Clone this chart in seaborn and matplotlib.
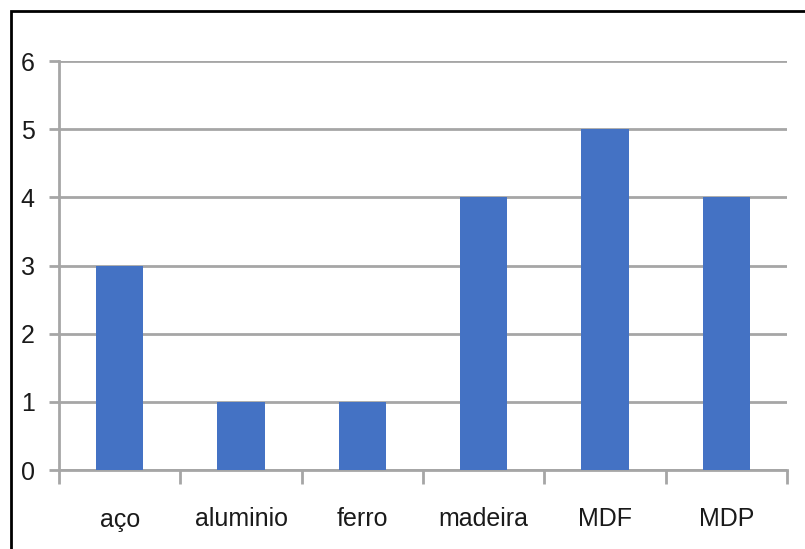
import matplotlib
matplotlib.use("Agg")
import matplotlib.pyplot as plt
import matplotlib.patches as mpatches
import seaborn as sns

materiais = ["aço", "aluminio", "ferro", "madeira", "MDF", "MDP"]
contagens = [3, 1, 1, 4, 5, 4]
y_ticks = [0, 1, 2, 3, 4, 5, 6]

W, H = 805, 549
sns.set_style("white")
plt.rcParams['font.family'] = ['Liberation Sans', 'DejaVu Sans']

fig = plt.figure(figsize=(W / 100, H / 100), dpi=100)
ax = fig.add_axes([59 / W, 1 - 470 / H, (787 - 59) / W, (470 - 61) / H])

sns.barplot(x=materiais, y=contagens, color="#4472C4", saturation=1,
            width=0.39, linewidth=0, edgecolor="none", ax=ax, zorder=3)

grid_c = "#A6A6A6"
ax.set_ylim(0, 6)
ax.set_xlim(-0.5, 5.5)
ax.set_yticks(y_ticks)
ax.yaxis.grid(True, color=grid_c, linewidth=2, zorder=0)
ax.set_axisbelow(True)
for s in ["top", "right"]:
    ax.spines[s].set_visible(False)
for s in ["left", "bottom"]:
    ax.spines[s].set_color(grid_c)
    ax.spines[s].set_linewidth(2)

# category boundary ticks (Excel style)
ax.set_xticks([i - 0.5 for i in range(len(materiais) + 1)], minor=True)
ax.tick_params(axis="x", which="minor", bottom=True, length=10, width=2,
               color=grid_c)
ax.tick_params(axis="x", which="major", bottom=True, length=0, pad=27,
               labelsize=18, labelcolor="#1a1a1a")
ax.tick_params(axis="y", left=True, length=7.5, width=2, color=grid_c,
               pad=10, labelsize=18, labelcolor="#1a1a1a")
ax.set_xlabel("")
ax.set_ylabel("")

# outer frame (only top and left visible in the crop)
fig.patches.append(mpatches.Rectangle((11 / W, -0.05), 1.1, 1 - 11 / H + 0.05,
                                      transform=fig.transFigure, fill=False,
                                      edgecolor="black", linewidth=2))

fig.savefig("out.png", dpi=100)
